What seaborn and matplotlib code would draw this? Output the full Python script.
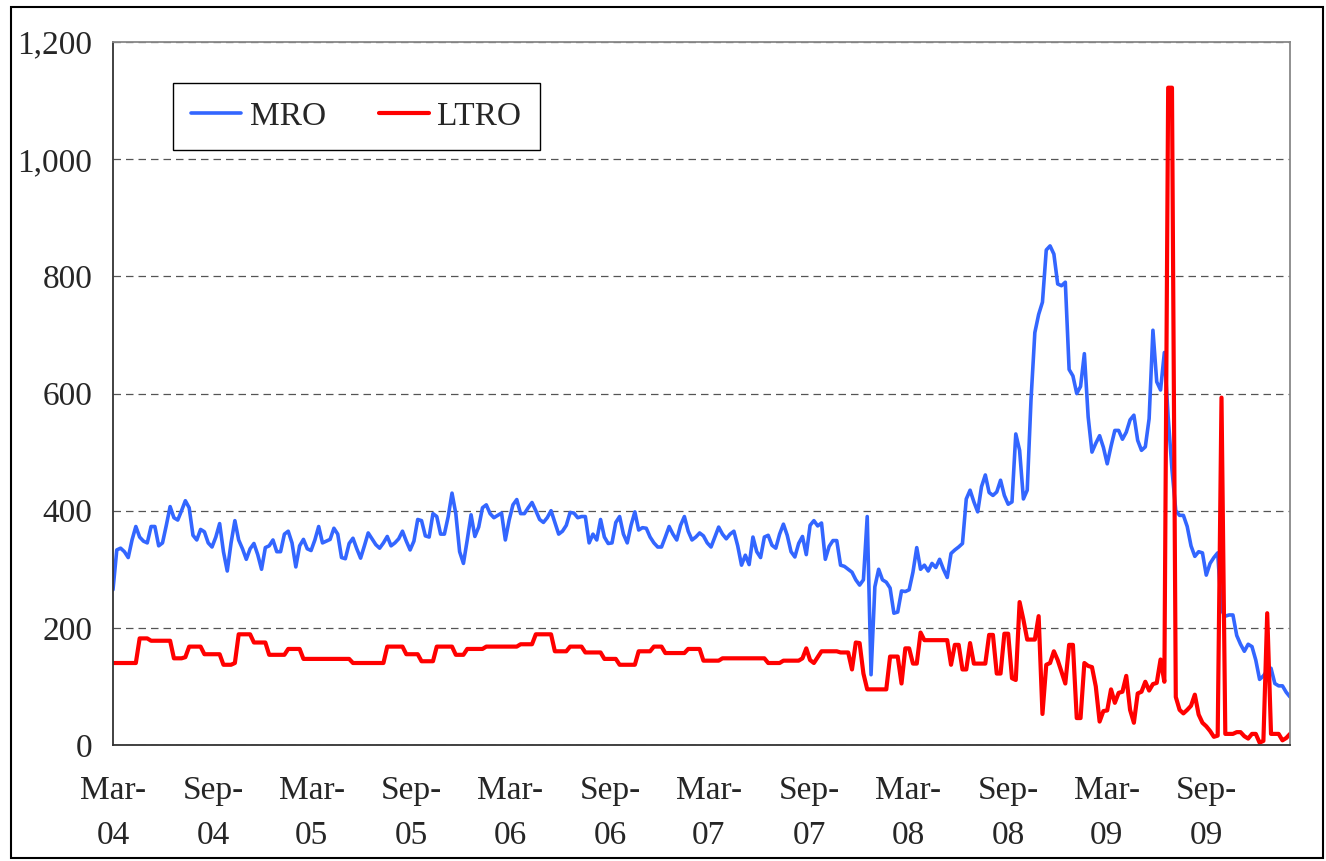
import pandas as pd
import seaborn as sns
import matplotlib.pyplot as plt
import matplotlib.ticker as mticker
from matplotlib.patches import Rectangle

# weekly outstanding amounts (EUR bn), starting March 2004
mro = [
    265, 333, 336, 330, 320, 350, 373, 355, 348, 345,
    373, 373, 340, 345, 375, 407, 388, 384, 400, 417,
    405, 358, 350, 368, 364, 345, 338, 355, 378, 330,
    297, 345, 383, 350, 335, 317, 335, 344, 325, 300,
    337, 340, 350, 330, 330, 360, 365, 345, 304, 340,
    351, 335, 332, 350, 373, 345, 348, 351, 370, 360,
    320, 318, 344, 353, 335, 319, 340, 362, 352, 342,
    336, 345, 356, 340, 345, 352, 365, 348, 333, 348,
    385, 383, 357, 355, 395, 390, 360, 360, 390, 430,
    395, 330, 310, 350, 393, 356, 372, 405, 410, 395,
    388, 392, 396, 350, 384, 410, 419, 395, 395, 405,
    414, 400, 385, 380, 388, 400, 380, 360, 365, 375,
    397, 396, 388, 390, 390, 345, 360, 350, 385, 355,
    344, 345, 380, 390, 360, 345, 375, 398, 367, 371,
    370, 355, 345, 338, 338, 355, 373, 360, 350, 375,
    390, 365, 350, 355, 362, 357, 345, 338, 355, 372,
    360, 352, 360, 365, 340, 307, 324, 308, 355, 330,
    320, 355, 358, 341, 336, 360, 377, 358, 330, 321,
    344, 356, 325, 375, 383, 374, 379, 317, 339, 349,
    349, 307, 305, 300, 295, 282, 273, 282, 390, 120,
    270, 300, 282, 278, 268, 225, 227, 263, 262, 265,
    295, 337, 300, 307, 297, 310, 303, 317, 300, 286,
    327, 333, 338, 344, 420, 435, 415, 398, 441, 461,
    431, 426, 432, 452, 426, 411, 415, 531, 503, 420,
    435, 590, 704, 735, 756, 845, 852, 838, 787, 784,
    790, 641, 630, 600, 612, 668, 560, 500, 515, 528,
    508, 480, 510, 537, 537, 522, 534, 555, 563, 520,
    503, 509, 557, 708, 620, 606, 670, 560, 470, 400,
    392, 392, 373, 340, 322, 330, 328, 290, 310, 320,
    328, 230, 220, 222, 222, 187, 172, 160, 172, 168,
    145, 112, 118, 127, 131, 105, 101, 101, 90, 82,
]

ltro = [
    140, 140, 140, 140, 140, 140, 140, 182, 182, 182,
    178, 178, 178, 178, 178, 178, 148, 148, 148, 150,
    168, 168, 168, 168, 155, 155, 155, 155, 155, 137,
    137, 137, 140, 189, 189, 189, 189, 175, 175, 175,
    175, 154, 154, 154, 154, 154, 164, 164, 164, 164,
    147, 147, 147, 147, 147, 147, 147, 147, 147, 147,
    147, 147, 147, 140, 140, 140, 140, 140, 140, 140,
    140, 140, 168, 168, 168, 168, 168, 155, 155, 155,
    155, 143, 143, 143, 143, 168, 168, 168, 168, 168,
    154, 154, 154, 164, 164, 164, 164, 164, 168, 168,
    168, 168, 168, 168, 168, 168, 168, 172, 172, 172,
    172, 189, 189, 189, 189, 189, 160, 160, 160, 160,
    168, 168, 168, 168, 158, 158, 158, 158, 158, 147,
    147, 147, 147, 137, 137, 137, 137, 137, 160, 160,
    160, 160, 168, 168, 168, 157, 157, 157, 157, 157,
    157, 164, 164, 164, 164, 144, 144, 144, 144, 144,
    148, 148, 148, 148, 148, 148, 148, 148, 148, 148,
    148, 148, 140, 140, 140, 140, 144, 144, 144, 144,
    144, 148, 165, 145, 140, 150, 160, 160, 160, 160,
    160, 158, 158, 158, 129, 175, 174, 122, 95, 95,
    95, 95, 95, 95, 151, 151, 151, 105, 165, 165,
    139, 139, 192, 179, 179, 179, 179, 179, 179, 179,
    137, 171, 171, 129, 129, 174, 139, 139, 139, 139,
    188, 188, 122, 122, 190, 190, 114, 111, 244, 214,
    180, 180, 180, 220, 53, 137, 140, 160, 145, 125,
    105, 171, 171, 46, 46, 140, 135, 133, 100, 40,
    58, 59, 95, 72, 89, 91, 118, 60, 38, 88,
    91, 108, 93, 104, 106, 146, 108, 1122, 1122, 82,
    60, 54, 60, 67, 86, 52, 38, 32, 24, 14,
    16, 593, 19, 19, 19, 22, 22, 15, 11, 19,
    19, 4, 7, 225, 19, 19, 19, 8, 12, 19,
]

dates = pd.date_range('2004-03-01', periods=len(mro), freq='7D')
tick_dates = pd.date_range('2004-03-01', '2009-09-01', freq='6MS')
tick_labels = [f"{d:%b}-\n{d:%y}" for d in tick_dates]

df = pd.DataFrame({'date': dates, 'MRO': mro, 'LTRO': ltro})

sns.set_style("white")
plt.rcParams['font.family'] = ['Liberation Serif', 'DejaVu Serif']

fig = plt.figure(figsize=(13.26, 8.61), dpi=100)
ax = fig.add_axes([0.0852, 0.1347, 0.8877, 0.8165])

sns.lineplot(data=df, x='date', y='MRO', color='#3366FF', linewidth=2.6, ax=ax, label='MRO')
sns.lineplot(data=df, x='date', y='LTRO', color='#FF0000', linewidth=3.0, ax=ax, label='LTRO')

ax.set_xlim(dates[0], dates[-1])
ax.set_ylim(0, 1200)
ax.set_yticks(range(0, 1201, 200))
ax.yaxis.set_major_formatter(mticker.FuncFormatter(lambda v, p: f"{int(v):,}"))
ax.set_xticks(tick_dates)
ax.set_xticklabels(tick_labels, linespacing=1.6)
ax.set_xlabel('')
ax.set_ylabel('')

ax.grid(axis='y', linestyle=(0, (6, 4)), color='#555555', linewidth=0.9)
ax.tick_params(axis='both', labelsize=24, direction='out', length=7, width=1.2, color='#444444')
ax.tick_params(axis='x', pad=15)
ax.tick_params(axis='y', pad=8)

for side in ['left', 'bottom']:
    ax.spines[side].set_color('#333333')
    ax.spines[side].set_linewidth(1.3)
for side in ['top', 'right']:
    ax.spines[side].set_color('#888888')
    ax.spines[side].set_linewidth(1.3)

leg = ax.legend(loc='upper left', bbox_to_anchor=(0.051, 0.942), ncol=2, fontsize=24,
                frameon=True, fancybox=False, framealpha=1, edgecolor='black',
                handlelength=1.5, handletextpad=0.25, columnspacing=1.6,
                borderpad=0.55, borderaxespad=0)
leg.get_frame().set_linewidth(1.0)

# outer frame round the whole chart
fig.patches.append(Rectangle((0.008, 0.003), 0.99, 0.989, transform=fig.transFigure,
                             fill=False, edgecolor='black', linewidth=1.5))

fig.savefig('out.png', dpi=100)
